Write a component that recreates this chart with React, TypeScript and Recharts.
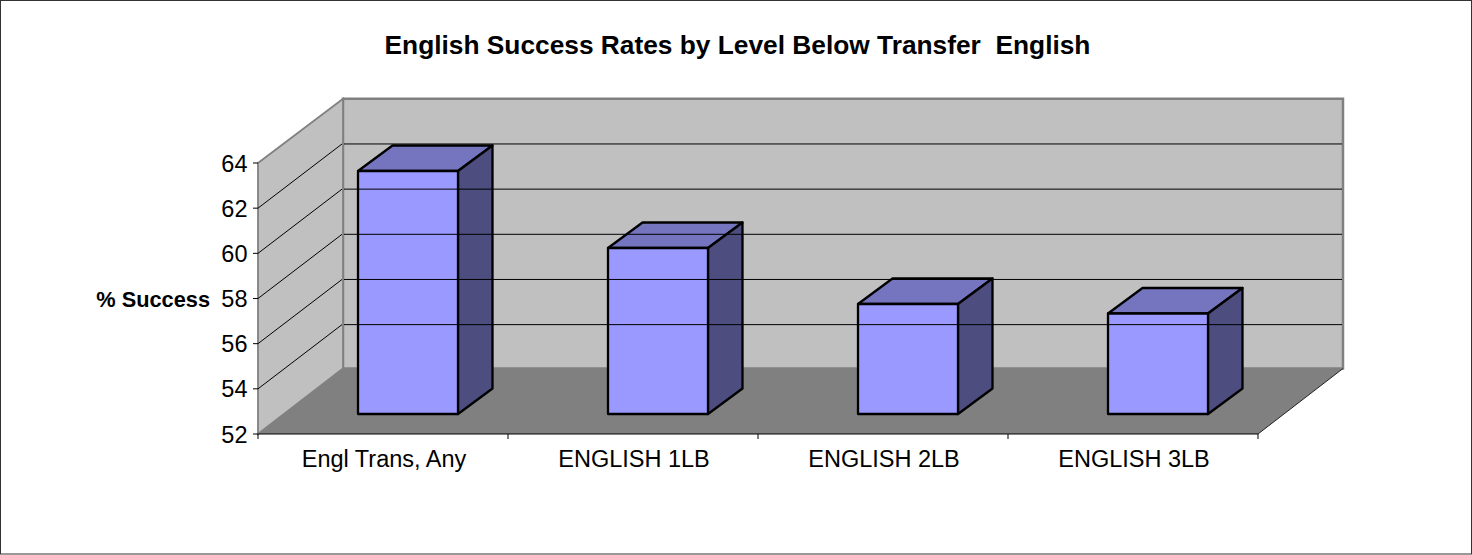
import React from 'react';
import { BarChart, Bar, XAxis, YAxis, Customized } from 'recharts';

const categories = ['Engl Trans, Any', 'ENGLISH 1LB', 'ENGLISH 2LB', 'ENGLISH 3LB'];
const successValues = [62.76, 59.35, 56.87, 56.45];
const yTicks = [52, 54, 56, 58, 60, 62, 64];
const titleText = 'English Success Rates by Level Below Transfer  English';
const yTitle = '% Success';
const data = categories.map((name, i) => ({ name, value: successValues[i] }));

const W = 1472, H = 555;
const L = 258, R = 1258, T = 163, B = 434;
const DX = 85, DY = 65.5, GRID_DY = 64.2;
const BAR_DX = 25, BAR_DY = 20, BAR_DEPTH_X = 34.5, BAR_DEPTH_Y = 25.5;
const FONT = '"Liberation Sans", Arial, sans-serif';

const Decor = () => (
  <g>
    <rect x={0.5} y={0.5} width={W - 1} height={H - 1.5} fill="#fff" stroke="#333" strokeWidth={1} />
    <text x={737.5} y={54} textAnchor="middle" fontFamily={FONT} fontWeight="bold" fontSize={26.3} fill="#000" style={{ whiteSpace: 'pre' }}>{titleText}</text>
    <text x={210} y={307} textAnchor="end" fontFamily={FONT} fontWeight="bold" fontSize={21.75} fill="#000">{yTitle}</text>
    <polygon points={`${L + DX},${T - GRID_DY} ${R + DX},${T - GRID_DY} ${R + DX},${B - DY} ${L + DX},${B - DY}`} fill="#C0C0C0" stroke="#808080" strokeWidth={2.5} />
    <polygon points={`${L},${T} ${L + DX},${T - GRID_DY} ${L + DX},${B - DY} ${L},${B}`} fill="#C0C0C0" stroke="#808080" strokeWidth={1.8} />
    <polygon points={`${L},${B} ${L + DX},${B - DY} ${R + DX},${B - DY} ${R},${B}`} fill="#808080" />
    <line x1={R} y1={B} x2={R + DX} y2={B - DY} stroke="#222" strokeWidth={1} />
  </g>
);

const YTick = (props: any) => {
  const { y, payload } = props;
  const inner = payload.value > yTicks[0] && payload.value < yTicks[yTicks.length - 1];
  const gridBack = y - GRID_DY;
  return (
    <g>
      {inner ? (
        <>
          <line x1={L} y1={y} x2={L + DX - 1} y2={gridBack} stroke="#000" strokeWidth={1} />
          <line x1={L + DX + 1} y1={gridBack} x2={R + DX - 1} y2={gridBack} stroke="#000" strokeWidth={1} />
        </>
      ) : null}
      <line x1={L - 5} y1={y} x2={L} y2={y} stroke="#000" strokeWidth={1} />
      <text x={247.5} y={y + 8.5} textAnchor="end" fontFamily={FONT} fontSize={23.5} fill="#000">{payload.value}</text>
    </g>
  );
};

const XTick = (props: any) => {
  const { x, payload, index } = props;
  const half = (R - L) / categories.length / 2;
  return (
    <g>
      <line x1={x - half} y1={B} x2={x - half} y2={B + 5} stroke="#000" strokeWidth={1} />
      {index === categories.length - 1 ? <line x1={x + half} y1={B} x2={x + half} y2={B + 5} stroke="#000" strokeWidth={1} /> : null}
      <text x={x + 1} y={B + 32.5} textAnchor="middle" fontFamily={FONT} fontSize={23.5} fill="#000">{payload.value}</text>
    </g>
  );
};

const Cuboid = (props: any) => {
  const { x, y, width, height } = props;
  const x0 = x + BAR_DX, x1 = x0 + width;
  const y0 = y - BAR_DY, y1 = y0 + height;
  const dx = BAR_DEPTH_X, dy = BAR_DEPTH_Y;
  return (
    <g stroke="#000" strokeWidth={2.3} strokeLinejoin="round">
      <polygon points={`${x0},${y0} ${x0 + dx},${y0 - dy} ${x1 + dx},${y0 - dy} ${x1},${y0}`} fill="#7474BF" />
      <polygon points={`${x1},${y0} ${x1 + dx},${y0 - dy} ${x1 + dx},${y1 - dy} ${x1},${y1}`} fill="#4D4D80" />
      <rect x={x0} y={y0} width={width} height={height} fill="#9999FF" />
    </g>
  );
};

export default function App() {
  return (
    <div style={{ position: 'absolute', left: 0, top: 0, width: W, height: H }}>
      <BarChart width={W} height={H} data={data} margin={{ left: L - 60, right: W - R, top: T, bottom: H - B - 30 }} barSize={100}>
        <Customized component={Decor} />
        <YAxis type="number" domain={[52, 64]} ticks={yTicks} width={60} axisLine={false} tickLine={false} tick={YTick} interval={0} />
        <XAxis dataKey="name" height={30} axisLine={{ stroke: '#000', strokeWidth: 1 }} tickLine={false} tick={XTick} interval={0} />
        <Bar dataKey="value" shape={Cuboid} isAnimationActive={false} />
      </BarChart>
    </div>
  );
}
